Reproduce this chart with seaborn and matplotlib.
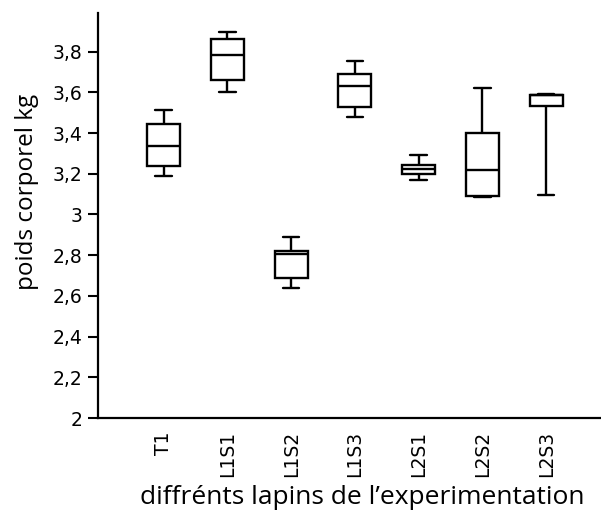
import matplotlib
matplotlib.use("Agg")
import matplotlib.pyplot as plt
import seaborn as sns
import pandas as pd
from matplotlib.ticker import FuncFormatter

# groups of rabbits and body weights (kg)
groupes = ['T1', 'L1S1', 'L1S2', 'L1S3', 'L2S1', 'L2S2', 'L2S3']
T1 = [3.19, 3.24, 3.335, 3.445, 3.515]
L1S1 = [3.60, 3.663, 3.783, 3.863, 3.897]
L1S2 = [2.638, 2.69, 2.805, 2.82, 2.89]
L1S3 = [3.479, 3.53, 3.633, 3.69, 3.753]
L2S1 = [3.167, 3.20, 3.223, 3.245, 3.292]
L2S2 = [3.085, 3.09, 3.217, 3.40, 3.622]
L2S3 = [3.094, 3.533, 3.585, 3.589, 3.594]
yticks = [2, 2.2, 2.4, 2.6, 2.8, 3, 3.2, 3.4, 3.6, 3.8]

valeurs = [T1, L1S1, L1S2, L1S3, L2S1, L2S2, L2S3]
rows = []
for g, vals in zip(groupes, valeurs):
    for v in vals:
        rows.append({'groupe': g, 'poids': v})
df = pd.DataFrame(rows)

sns.set_style('white')
fig = plt.figure(figsize=(6.01, 5.13), dpi=100)
ax = fig.add_axes([98 / 601, 95 / 513, 503 / 601, 405 / 513])

sns.boxplot(data=df, x='groupe', y='poids', order=groupes, ax=ax,
            color='white', linecolor='black', linewidth=1.7,
            width=0.52, whis=(0, 100))

ax.set_xlim(-1.03, 6.86)
ax.set_ylim(2, 3.99)
ax.set_yticks(yticks)
ax.yaxis.set_major_formatter(FuncFormatter(lambda v, p: f"{v:g}".replace('.', ',')))

for s in ['top', 'right']:
    ax.spines[s].set_visible(False)
for s in ['left', 'bottom']:
    ax.spines[s].set_color('black')
    ax.spines[s].set_linewidth(1.6)

ax.tick_params(axis='y', left=True, length=7, width=1.5, pad=4,
               labelsize=13.5, colors='black')
ax.tick_params(axis='x', bottom=False, pad=6, labelsize=13.5, labelrotation=90,
               colors='black')

ax.set_ylabel('poids corporel kg', fontsize=17.5, family='Open Sans', color='black')
ax.set_xlabel('diffrénts lapins de l\u2019experimentation', fontsize=19,
              family='Open Sans', color='black')
ax.yaxis.set_label_coords(-0.118, 0.557)
ax.xaxis.set_label_coords(0.526, -0.165)

fig.savefig('out.png', dpi=100)
